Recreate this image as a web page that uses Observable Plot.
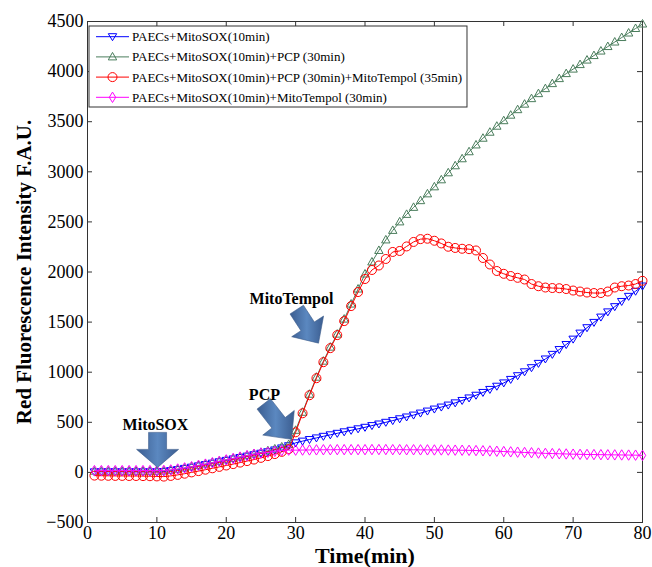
<!DOCTYPE html>
<html><head><meta charset="utf-8">
<script src="https://cdn.jsdelivr.net/npm/d3@7"></script>
<script src="https://cdn.jsdelivr.net/npm/@observablehq/plot@0.6"></script>
<style>body{margin:0;background:#fff}</style>
</head><body><div id="chart"></div>
<script>
const time = [1,2,3,4,5,6,7,8,9,10,11,12,13,14,15,16,17,18,19,20,21,22,23,24,25,26,27,28,29,30,31,32,33,34,35,36,37,38,39,40,41,42,43,44,45,46,47,48,49,50,51,52,53,54,55,56,57,58,59,60,61,62,63,64,65,66,67,68,69,70,71,72,73,74,75,76,77,78,79,80];
const seriesNames = [
  "PAECs+MitoSOX(10min)",
  "PAECs+MitoSOX(10min)+PCP (30min)",
  "PAECs+MitoSOX(10min)+PCP (30min)+MitoTempol (35min)",
  "PAECs+MitoSOX(10min)+MitoTempol (30min)"
];
const mitoSOX = [5,5,5,5,5,5,5,5,5,5,8,
  18,28,40,52,65,78,92,106,120,134,148,162,176,191,206,224,244,266,
  295,312,328,344,360,375,390,405,420,435,450,467,483,500,517,535,553,572,592,612,632,
  652,672,694,718,743,770,798,828,860,893,928,965,1004,1045,1088,1132,1178,1226,1276,1330,
  1390,1444,1497,1550,1602,1654,1706,1757,1808,1860];
const withPCP = [12,12,12,12,12,12,12,12,12,12,14,
  22,32,44,56,70,84,98,112,126,140,155,170,185,200,216,234,254,278,
  420,600,780,950,1110,1250,1380,1530,1680,1830,1980,
  2100,2215,2320,2415,2500,2575,2645,2712,2780,2850,
  2920,2990,3060,3130,3200,3268,3335,3395,3455,3510,
  3565,3620,3675,3730,3780,3830,3880,3930,3980,4025,
  4070,4115,4160,4205,4250,4295,4340,4385,4430,4475];
const withPCPTempol = [-32,-33,-34,-35,-35,-36,-36,-37,-38,-40,-42,
  -35,-25,-13,0,13,27,41,55,69,83,98,113,128,145,163,183,205,232,
  400,590,770,940,1100,1240,1370,1510,1660,1800,1930,
  2020,2065,2130,2200,2210,2255,2300,2328,2332,2312,
  2285,2252,2240,2232,2228,2215,2140,2075,2010,1982,
  1960,1942,1925,1880,1858,1845,1840,1838,1830,1815,
  1805,1795,1790,1790,1805,1845,1858,1865,1880,1912];
const withTempol = [18,18,18,18,18,18,18,18,18,18,20,
  25,34,45,57,70,83,97,111,125,139,153,167,181,193,200,210,218,222,
  222,223,224,225,226,226,227,227,227,227,227,228,228,228,227,227,226,226,225,225,224,224,223,222,221,220,
  218,216,214,211,208,205,202,199,196,193,190,188,186,184,182,180,179,178,177,176,175,174,173,172,170];
const xTicks = [0,10,20,30,40,50,60,70,80];
const yTicks = [-500,0,500,1000,1500,2000,2500,3000,3500,4000,4500];
const arrowTips = [
  {label:"MitoSOX", t:10.1, v:50},
  {label:"PCP", t:29.4, v:330},
  {label:"MitoTempol", t:33.3, v:1290}
];
const arrowLabels = [
  {label:"MitoSOX", t:9.8, v:478},
  {label:"PCP", t:25.5, v:777},
  {label:"MitoTempol", t:29.4, v:1736}
];

// styles
const FONT = '"Liberation Serif","Times New Roman",serif';
const triDown = {draw(c){c.moveTo(-4.2,-3);c.lineTo(4.2,-3);c.lineTo(0,4);c.closePath();}};
const triUp = {draw(c){c.moveTo(0,-4.5);c.lineTo(4.2,3);c.lineTo(-4.2,3);c.closePath();}};
const diamond = {draw(c){c.moveTo(0,-5.2);c.lineTo(3.2,0);c.lineTo(0,5.2);c.lineTo(-3.2,0);c.closePath();}};
const circle = {draw(c){c.moveTo(4.5,0);c.arc(0,0,4.5,0,2*Math.PI);c.closePath();}};
const seriesStyle = [
  {values: mitoSOX, color:"#0000ff", symbol: triDown},
  {values: withPCP, color:"#4a7d5c", symbol: triUp},
  {values: withPCPTempol, color:"#ff0000", symbol: circle},
  {values: withTempol, color:"#ff00ff", symbol: diamond}
];
function arrowSymbol(angleDeg, L, hl, hw, sw) {
  const a = angleDeg*Math.PI/180, ca = Math.cos(a), sa = Math.sin(a);
  const pts = [[0,0],[-hl,hw/2],[-hl,sw/2],[-L,sw/2],[-L,-sw/2],[-hl,-sw/2],[-hl,-hw/2]];
  return {draw(c){pts.forEach(([u,w],i)=>{const x=u*ca-w*sa, y=u*sa+w*ca; i?c.lineTo(x,y):c.moveTo(x,y);}); c.closePath();}};
}
const arrowStyle = {
  MitoSOX: arrowSymbol(90, 35, 18, 42, 18),
  PCP: arrowSymbol(52, 45, 21, 40, 17),
  MitoTempol: arrowSymbol(57, 40, 20, 38, 16)
};

const innerH = 567-21-45, innerW = 652-87-10;
const marks = [];
marks.push(Plot.frame({stroke:"#333"}));
marks.push(Plot.tickX(xTicks, {x:d=>d, insetTop: innerH-5, stroke:"#333"}));
marks.push(Plot.tickX(xTicks, {x:d=>d, insetBottom: innerH-5, stroke:"#333"}));
marks.push(Plot.tickY(yTicks, {y:d=>d, insetRight: innerW-5, stroke:"#333"}));
marks.push(Plot.tickY(yTicks, {y:d=>d, insetLeft: innerW-5, stroke:"#333"}));
marks.push(Plot.axisX(xTicks, {tickSize:0, tickPadding:4, fontSize:18, label:null, tickFormat:d3.format("d")}));
marks.push(Plot.axisY(yTicks, {tickSize:0, tickPadding:4, fontSize:18, label:null, tickFormat:d3.format("d")}));
seriesStyle.forEach(s => {
  const rows = time.map((t,i)=>({t, v:s.values[i]}));
  marks.push(Plot.line(rows, {x:"t", y:"v", stroke:s.color, strokeWidth:1}));
  marks.push(Plot.dot(rows, {x:"t", y:"v", stroke:s.color, strokeWidth:1, fill:"none", symbol:s.symbol}));
});
arrowTips.forEach(a => {
  marks.push(Plot.dot([a], {x:"t", y:"v", symbol: arrowStyle[a.label], fill:"url(#arrowGrad)", stroke:"#3a5a8a", strokeWidth:0.6}));
});
marks.push(Plot.text(arrowLabels, {x:"t", y:"v", text:"label", fontWeight:"bold", fontSize:16, fill:"#000"}));
marks.push(Plot.text(["Time(min)"], {frameAnchor:"bottom", dy:40, textAnchor:"middle", fontWeight:"bold", fontSize:22, fill:"#000"}));
marks.push(Plot.text(["Red Fluorescence Intensity F.A.U."], {frameAnchor:"left", dx:-63, rotate:-90, textAnchor:"middle", fontWeight:"bold", fontSize:21, fill:"#000"}));

const svgNode = Plot.plot({
  width:652, height:567,
  marginLeft:87, marginRight:10, marginTop:21, marginBottom:45,
  x:{domain:[0,80], label:null},
  y:{domain:[-500,4500], label:null},
  style:{fontFamily:FONT, fontSize:"18px", color:"#000", background:"#fff"},
  marks
});
document.getElementById("chart").appendChild(svgNode);

const svg = d3.select(svgNode);
const defs = svg.insert("defs", ":first-child");
const grad = defs.append("linearGradient").attr("id","arrowGrad").attr("x1","0").attr("x2","1").attr("y1","0").attr("y2","0");
grad.append("stop").attr("offset","0%").attr("stop-color","#3b5d90");
grad.append("stop").attr("offset","50%").attr("stop-color","#5b88c0");
grad.append("stop").attr("offset","100%").attr("stop-color","#3b5d90");

// legend
const lg = svg.append("g").attr("transform","translate(89,26)").attr("text-anchor","start");
const rect = lg.append("rect").attr("x",0).attr("y",0).attr("height",81).attr("fill","#fff").attr("stroke","#333");
let maxW = 0;
seriesStyle.forEach((s,i) => {
  const y = 10.7 + i*20.2;
  lg.append("line").attr("x1",7).attr("x2",40).attr("y1",y).attr("y2",y).attr("stroke",s.color);
  const p = d3.path(); s.symbol.draw(p);
  lg.append("path").attr("d",p.toString()).attr("transform",`translate(23.5,${y})`).attr("fill","none").attr("stroke",s.color);
  const tx = lg.append("text").attr("x",43).attr("y",y).attr("dy","0.35em").attr("text-anchor","start").attr("font-family",FONT).attr("font-size",13).attr("fill","#000").text(seriesNames[i]);
  maxW = Math.max(maxW, tx.node().getComputedTextLength());
});
rect.attr("width", 43 + maxW + 5);
</script></body></html>
